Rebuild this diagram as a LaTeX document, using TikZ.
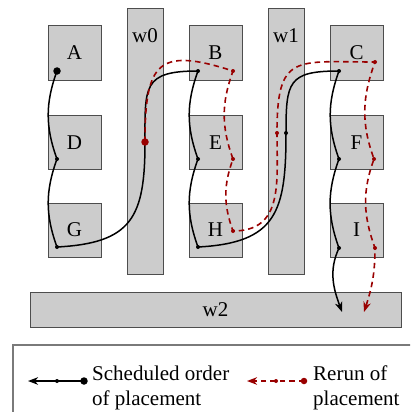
\documentclass[tikz,border=0pt]{standalone}
\usepackage{fontspec}
\setmainfont{Liberation Serif}
\usetikzlibrary{arrows.meta}
\definecolor{boxgray}{HTML}{CCCCCC}
\definecolor{edgegray}{HTML}{4D4D4D}
\definecolor{legendgray}{HTML}{7A7A7A}
\definecolor{rerun}{HTML}{990000}
\begin{document}
\begin{tikzpicture}[x=1pt,y=-1pt,
  box/.style={draw=edgegray,fill=boxgray,line width=1pt,inner sep=0pt},
  cell/.style={box,minimum width=53pt,minimum height=54pt,font=\fontsize{21}{25}\selectfont},
  sched/.style={black,line width=1.5pt},
  rerunline/.style={rerun,line width=1.6pt,dash pattern=on 5.5pt off 4pt},
  bigdot/.style={circle,fill,inner sep=0pt,minimum size=7.5pt},
  smalldot/.style={circle,fill,inner sep=0pt,minimum size=4pt},
  lbl/.style={font=\fontsize{21}{25}\selectfont,inner sep=0pt},
  tip/.style={-{Stealth[length=10pt,width=7.5pt,inset=3pt]}},
  hop/.style={out=-110,in=110},
]
\useasboundingbox (0,0) rectangle (410,412);
\clip (0,0) rectangle (410,412);

% walls
\node[box,minimum width=36pt,minimum height=265pt] (w0) at (145,141.5) {};
\node[box,minimum width=36pt,minimum height=265pt] (w1) at (286,141.5) {};
\node[box,minimum width=371pt,minimum height=35pt,font=\fontsize{21}{25}\selectfont] (w2) at (215.5,309.5) {w2};
\node[lbl,anchor=base] (w0t) at (145,43) {w0};
\node[lbl,anchor=base] (w1t) at (286,43) {w1};

% cells
\node[cell] (A) at (74.5,53) {A};
\node[cell] (D) at (74.5,142.5) {D};
\node[cell] (G) at (74.5,230) {G};
\node[cell] (B) at (215.5,53) {B};
\node[cell] (E) at (215.5,142.5) {E};
\node[cell] (H) at (215.5,230) {H};
\node[cell] (C) at (356.5,53) {C};
\node[cell] (F) at (356.5,142.5) {F};
\node[cell] (I) at (356.5,230) {I};

% scheduled path points
\coordinate (pA) at (57,71);
\coordinate (pD) at (57,159);
\coordinate (pG) at (57,247);
\coordinate (p0) at (145,142);
\coordinate (pB) at (198,71);
\coordinate (pE) at (198,159);
\coordinate (pH) at (198,247);
\coordinate (p1) at (286,133);
\coordinate (pC) at (339,71);
\coordinate (pF) at (339,159);
\coordinate (pI) at (339,248);
\coordinate (pEnd) at (342,312);

% rerun path points
\coordinate (rB) at (233,71);
\coordinate (rE) at (233,159);
\coordinate (rH) at (233,231);
\coordinate (r1) at (277,133);
\coordinate (rC) at (375,62);
\coordinate (rF) at (374,159);
\coordinate (rI) at (375,248);
\coordinate (rEnd) at (364,312);

% scheduled order
\draw[sched,tip] (pA) to[hop] (pD) to[hop] (pG)
  to[out=3,in=-90,looseness=1.4] (p0)
  to[out=90,in=180,looseness=1.6] (pB)
  to[hop] (pE) to[hop] (pH)
  to[out=3,in=-90,looseness=1.4] (p1)
  to[out=90,in=180,looseness=1.6] (pC)
  to[hop] (pF) to[hop] (pI)
  to[out=-115,in=110] (pEnd);

% rerun
\draw[rerunline,tip] (p0)
  to[out=90,in=162,looseness=1.8] (rB)
  to[hop] (rE) to[hop] (rH)
  to[out=0,in=-90,looseness=1.2] (r1)
  to[out=90,in=180,looseness=1.7] (rC)
  to[hop] (rF) to[hop] (rI)
  to[out=-90,in=72] (rEnd);

% dots
\node[bigdot] (dA) at (pA) {};
\node[smalldot] (dD) at (pD) {};
\node[smalldot] (dG) at (pG) {};
\node[smalldot] (dB) at (pB) {};
\node[smalldot] (dE) at (pE) {};
\node[smalldot] (dH) at (pH) {};
\node[smalldot] (d1) at (p1) {};
\node[smalldot] (dC) at (pC) {};
\node[smalldot] (dF) at (pF) {};
\node[smalldot] (dI) at (pI) {};
\node[bigdot,rerun] (d0) at (p0) {};
\node[smalldot,rerun] (eB) at (rB) {};
\node[smalldot,rerun] (eE) at (rE) {};
\node[smalldot,rerun] (eH) at (rH) {};
\node[smalldot,rerun] (e1) at (r1) {};
\node[smalldot,rerun] (eC) at (rC) {};
\node[smalldot,rerun] (eF) at (rF) {};
\node[smalldot,rerun] (eI) at (rI) {};

% legend
\node[draw=legendgray,line width=1.5pt,minimum width=420pt,minimum height=90pt,anchor=north west,inner sep=0pt] (legend) at (12,344) {};
\coordinate (lsS) at (84,381);
\coordinate (lsE) at (28,381);
\coordinate (lrS) at (304,381);
\coordinate (lrE) at (247,381);
\draw[sched,tip] (lsS) -- (lsE);
\draw[rerunline,tip] (lrS) -- (lrE);
\node[bigdot] (ldS) at (lsS) {};
\node[smalldot] (ldSm) at (57,381) {};
\node[bigdot,rerun,minimum size=6.5pt] (ldR) at (lrS) {};
\node[smalldot,rerun] (ldRm) at (276,381) {};
\node[lbl,anchor=west,align=left] (ltS) at (92,388) {Scheduled order\\of placement};
\node[lbl,anchor=west,align=left] (ltR) at (313,388) {Rerun of\\placement};
\end{tikzpicture}
\end{document}
